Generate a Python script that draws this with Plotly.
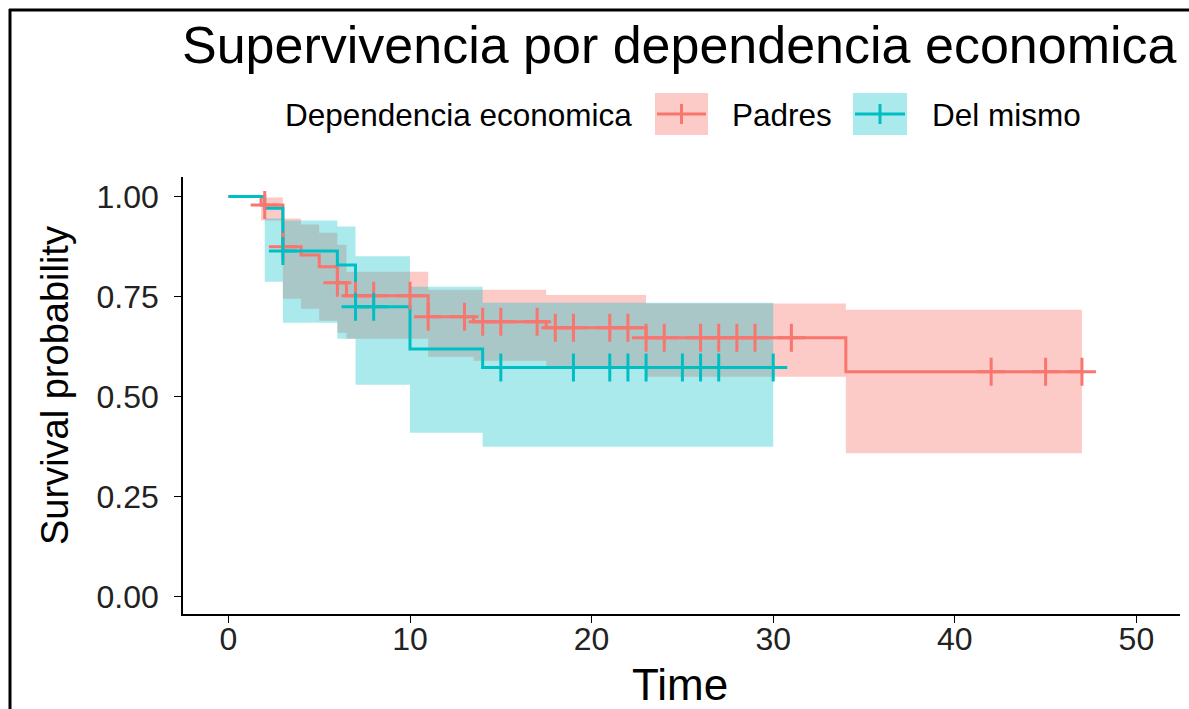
import bisect
import plotly.graph_objects as go

# Kaplan-Meier estimates per group: step start times, survival and 95% CI bounds
padres_time = [0, 1.8, 3, 4, 5, 6, 6.5, 11, 13.5, 17.5, 23, 34, 47]
padres_surv = [1.0, 0.979, 0.875, 0.854, 0.825, 0.785, 0.752, 0.700, 0.687, 0.672, 0.647, 0.5625, 0.5625]
padres_lower = [1.0, 0.940, 0.745, 0.720, 0.690, 0.660, 0.645, 0.600, 0.590, 0.575, 0.550, 0.359, 0.359]
padres_upper = [1.0, 0.998, 0.945, 0.930, 0.910, 0.880, 0.812, 0.767, 0.767, 0.754, 0.733, 0.717, 0.717]
padres_censor = [2, 3, 6, 7, 8, 10, 11, 13, 14, 15, 17, 18, 19, 21, 22, 23, 24,
                 26, 27, 28, 29, 31, 42, 45, 47]

mismo_time = [0, 2, 3, 6, 7, 10, 14, 30]
mismo_surv = [1.0, 0.971, 0.864, 0.829, 0.725, 0.619, 0.573, 0.573]
mismo_lower = [1.0, 0.787, 0.685, 0.645, 0.530, 0.410, 0.375, 0.375]
mismo_upper = [1.0, 0.945, 0.940, 0.925, 0.851, 0.775, 0.735, 0.735]
mismo_censor = [3, 7, 8, 15, 19, 21, 22, 23, 25, 26, 27, 30]

group_names = ["Padres", "Del mismo"]
group_colors = ["#F8766D", "#00BFC4"]
band_colors = ["rgba(248,118,109,0.38)", "rgba(0,191,196,0.33)"]

x_ticks = [0, 10, 20, 30, 40, 50]
y_ticks = [0, 0.25, 0.5, 0.75, 1.0]
y_tick_text = ["0.00", "0.25", "0.50", "0.75", "1.00"]

FONT = "Liberation Sans, Arial, sans-serif"
W, H = 1189, 709
ML, MR, MT, MB = 183, 9, 177, 95
PW, PH = W - ML - MR, H - MT - MB


def px_x(px):
    return (px - ML) / PW


def px_y(py):
    return (H - MB - py) / PH


def surv_at(times, surv, t):
    return surv[bisect.bisect_right(times, t) - 1]


groups = [
    (padres_time, padres_surv, padres_lower, padres_upper, padres_censor),
    (mismo_time, mismo_surv, mismo_lower, mismo_upper, mismo_censor),
]

fig = go.Figure()

# confidence bands (stepped ribbons)
for (t, s, lo, up, cen), name, band in zip(groups, group_names, band_colors):
    fig.add_trace(go.Scatter(x=t, y=lo, mode="lines", line=dict(width=0, shape="hv"),
                             showlegend=False, hoverinfo="skip"))
    fig.add_trace(go.Scatter(x=t, y=up, mode="lines", line=dict(width=0, shape="hv"),
                             fill="tonexty", fillcolor=band, showlegend=False,
                             hoverinfo="skip", name=name))

# survival curves
for (t, s, lo, up, cen), name, col in zip(groups, group_names, group_colors):
    fig.add_trace(go.Scatter(x=t, y=s, mode="lines", name=name,
                             line=dict(color=col, width=3, shape="hv"), showlegend=False))

# censoring marks
for (t, s, lo, up, cen), name, col in zip(groups, group_names, group_colors):
    fig.add_trace(go.Scatter(x=cen, y=[surv_at(t, s, c) for c in cen], mode="markers",
                             name=name, showlegend=False,
                             marker=dict(symbol="cross-thin", size=20,
                                         line=dict(color=col, width=3))))

axis_common = dict(showline=True, linecolor="black", linewidth=1.5, ticks="outside",
                   ticklen=7, tickwidth=1.3, tickcolor="black", showgrid=False,
                   zeroline=False, tickfont=dict(family=FONT, size=32, color="#222"))

fig.update_layout(
    width=W, height=H,
    margin=dict(l=ML, r=MR, t=MT, b=MB),
    paper_bgcolor="white", plot_bgcolor="white",
    showlegend=False,
    xaxis=dict(range=[-2.5, 52.4], tickvals=x_ticks, ticklabelstandoff=-11, **axis_common),
    yaxis=dict(range=[-0.043, 1.049], tickvals=y_ticks, ticktext=y_tick_text,
               ticklabelstandoff=9, **axis_common),
)

annotations = [
    dict(text="Supervivencia por dependencia economica", x=px_x(180), y=px_y(45),
         xanchor="left", yanchor="middle", font=dict(family=FONT, size=52, color="black")),
    dict(text="Time", x=px_x(680), y=px_y(684), xanchor="center", yanchor="middle",
         font=dict(family=FONT, size=44, color="black")),
    dict(text="Survival probability", x=px_x(55), y=px_y(386), xanchor="center",
         yanchor="middle", textangle=-90, font=dict(family=FONT, size=38, color="black")),
    dict(text="Dependencia economica", x=px_x(283), y=px_y(115), xanchor="left",
         yanchor="middle", font=dict(family=FONT, size=31.5, color="black")),
]

shapes = []
# legend keys: band swatch, line and censor cross
key_boxes = [(655, 708), (853, 907)]
label_x = [730, 930]
for (x0, x1), name, col, band, lx in zip(key_boxes, group_names, group_colors,
                                          band_colors, label_x):
    shapes.append(dict(type="rect", xref="paper", yref="paper", x0=px_x(x0), x1=px_x(x1),
                       y0=px_y(93), y1=px_y(135), fillcolor=band, line=dict(width=0)))
    shapes.append(dict(type="line", xref="paper", yref="paper", x0=px_x(x0 + 2),
                       x1=px_x(x1 - 2), y0=px_y(114), y1=px_y(114),
                       line=dict(color=col, width=3)))
    xc = (x0 + x1) / 2
    shapes.append(dict(type="line", xref="paper", yref="paper", x0=px_x(xc), x1=px_x(xc),
                       y0=px_y(104), y1=px_y(124), line=dict(color=col, width=3)))
    annotations.append(dict(text=name, x=px_x(lx), y=px_y(115), xanchor="left",
                            yanchor="middle", font=dict(family=FONT, size=31.5, color="black")))

# frame around the figure (top and left edges)
shapes.append(dict(type="line", xref="paper", yref="paper", x0=px_x(10), x1=px_x(10),
                   y0=px_y(9), y1=px_y(712), line=dict(color="black", width=3)))
shapes.append(dict(type="line", xref="paper", yref="paper", x0=px_x(9), x1=px_x(1192),
                   y0=px_y(10), y1=px_y(10), line=dict(color="black", width=3)))

for a in annotations:
    a.update(xref="paper", yref="paper", showarrow=False)

fig.update_layout(annotations=annotations, shapes=shapes)
fig.write_html("out.html")
